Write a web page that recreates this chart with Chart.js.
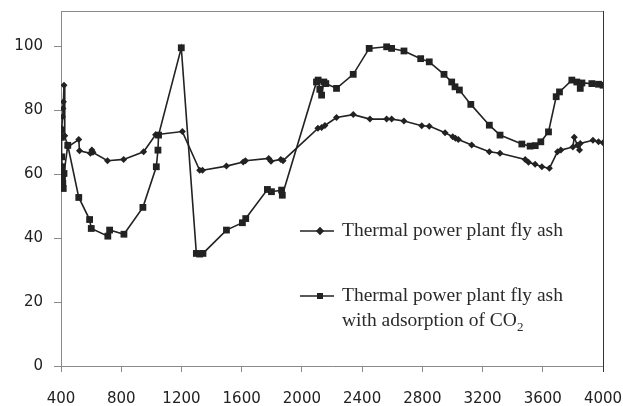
<!DOCTYPE html>
<html><head><meta charset="utf-8">
<script src="https://cdn.jsdelivr.net/npm/chart.js@4/dist/chart.umd.min.js"></script>
<style>html,body{margin:0;padding:0;background:#fff}#wrap{position:relative;width:623px;height:406px}</style>
</head><body><div id="wrap"><canvas id="c" width="623" height="406"></canvas></div>
<script>
const xTicks = [400, 800, 1200, 1600, 2000, 2400, 2800, 3200, 3600, 4000];
const yTicks = [0, 20, 40, 60, 80, 100];
const seriesNames = ['Thermal power plant fly ash', 'Thermal power plant fly ash', 'with adsorption of CO'];

const xFly = [400, 405, 410, 413, 416, 420, 425, 445, 518, 523, 595, 605, 612, 709, 816, 949, 1028, 1206, 1321, 1340, 1499, 1610, 1625, 1780, 1795, 1860, 1875, 2106, 2131, 2153, 2230, 2341, 2452, 2563, 2596, 2678, 2796, 2846, 2951, 3002, 3020, 3039, 3128, 3245, 3316, 3483, 3505, 3549, 3594, 3644, 3698, 3720, 3800, 3809, 3830, 3844, 3849, 3933, 3970, 4000];
const yFly = [71.7, 74.3, 77.9, 80.5, 82.6, 87.8, 72, 68.5, 70.8, 67.3, 66.5, 67.5, 66.8, 64.2, 64.6, 67, 72.3, 73.3, 61.2, 61.2, 62.5, 63.8, 64.2, 64.9, 64, 64.6, 64.2, 74.3, 74.6, 75.2, 77.7, 78.6, 77.2, 77.2, 77.2, 76.6, 75.1, 75, 72.9, 71.7, 71.2, 70.8, 69.1, 67, 66.5, 64.6, 63.7, 63.1, 62.3, 61.8, 67, 67.5, 68.5, 71.5, 69, 67.5, 69.6, 70.6, 70.1, 69.8];

const xCO2 = [400, 403, 405, 408, 410, 412, 415, 420, 445, 518, 590, 601, 711, 723, 818, 944, 1033, 1044, 1048, 1199, 1299, 1321, 1343, 1499, 1605, 1627, 1771, 1798, 1865, 1870, 2097, 2108, 2119, 2131, 2146, 2159, 2230, 2341, 2447, 2563, 2596, 2678, 2789, 2846, 2944, 2995, 3017, 3046, 3122, 3245, 3316, 3461, 3516, 3550, 3587, 3638, 3689, 3711, 3793, 3826, 3849, 3860, 3926, 3970, 4000];
const yCO2 = [73.7, 71.5, 65.4, 62.3, 59.2, 57.1, 55.5, 60.2, 69, 52.7, 45.8, 43, 40.6, 42.5, 41.2, 49.6, 62.3, 67.5, 72.2, 99.5, 35.2, 35, 35.2, 42.5, 44.8, 46.1, 55.2, 54.5, 55, 53.4, 88.8, 89.4, 86.5, 84.7, 88.8, 88.3, 86.8, 91.2, 99.3, 99.8, 99.3, 98.5, 96.1, 95.1, 91.2, 88.8, 87.3, 86.3, 81.8, 75.3, 72.2, 69.4, 68.75, 68.9, 70.1, 73.2, 84.2, 85.7, 89.4, 88.8, 86.8, 88.5, 88.3, 88.1, 87.8];

const pts = (xs, ys) => xs.map((x, i) => ({x: x, y: ys[i]}));
const INK = '#222';
const AXIS = '#8a8a8a';

const framePlugin = {
  id: 'frame',
  afterDraw(chart) {
    const {ctx, chartArea: a} = chart;
    ctx.save();
    ctx.lineWidth = 1;
    ctx.strokeStyle = AXIS;
    ctx.beginPath();
    ctx.moveTo(a.left, a.top + 0.5);
    ctx.lineTo(a.right, a.top + 0.5);
    ctx.stroke();
    ctx.strokeStyle = '#333';
    ctx.beginPath();
    ctx.moveTo(a.right + 0.5, a.top);
    ctx.lineTo(a.right + 0.5, a.bottom + 6);
    ctx.stroke();
    ctx.restore();
  }
};

const legendPlugin = {
  id: 'customLegend',
  afterDraw(chart) {
    const ctx = chart.ctx;
    ctx.save();
    const drawSample = (y, shape) => {
      ctx.strokeStyle = INK;
      ctx.lineWidth = 1.6;
      ctx.beginPath();
      ctx.moveTo(300, y);
      ctx.lineTo(334, y);
      ctx.stroke();
      ctx.fillStyle = INK;
      if (shape === 'diamond') {
        Chart.helpers.drawPoint(ctx, {pointStyle: 'rectRot', radius: 3, borderWidth: 1}, 320, y);
        ctx.fill();
      } else {
        ctx.fillRect(317, y - 3, 6, 6);
      }
    };
    drawSample(231, 'diamond');
    drawSample(296, 'square');
    ctx.fillStyle = '#2a2a2a';
    ctx.font = '19.5px "Liberation Serif", "Times New Roman", serif';
    ctx.textBaseline = 'middle';
    ctx.textAlign = 'left';
    ctx.fillText(seriesNames[0], 342, 231);
    ctx.fillText(seriesNames[1], 342, 296);
    ctx.fillText(seriesNames[2], 342, 321);
    const w = ctx.measureText(seriesNames[2]).width;
    ctx.font = '13px "Liberation Serif", "Times New Roman", serif';
    ctx.fillText('2', 342 + w, 328);
    ctx.restore();
  }
};

new Chart(document.getElementById('c'), {
  type: 'line',
  data: {
    datasets: [
      {
        label: seriesNames[0],
        data: pts(xFly, yFly),
        borderColor: INK,
        backgroundColor: INK,
        borderWidth: 1.6,
        pointStyle: 'rectRot',
        pointRadius: 3.5,
        pointBorderWidth: 0,
        tension: 0
      },
      {
        label: seriesNames[1] + ' ' + seriesNames[2] + '2',
        data: pts(xCO2, yCO2),
        borderColor: INK,
        backgroundColor: INK,
        borderWidth: 1.6,
        pointStyle: 'rect',
        pointRadius: 4.8,
        pointBorderWidth: 0,
        tension: 0
      }
    ]
  },
  options: {
    responsive: false,
    animation: false,
    layout: {padding: {top: 11, right: 20, left: 0, bottom: 0}},
    plugins: {legend: {display: false}, tooltip: {enabled: false}},
    scales: {
      x: {
        type: 'linear',
        min: 400, max: 4000,
        afterBuildTicks: s => { s.ticks = xTicks.map(v => ({value: v})); },
        afterFit: s => { s.height = 40; s.paddingLeft = 0; s.paddingRight = 0; },
        grid: {drawOnChartArea: false, color: AXIS, tickLength: 6},
        border: {color: AXIS, width: 1},
        ticks: {color: '#222', font: {family: '"DejaVu Sans", sans-serif', size: 15}, padding: 18, maxRotation: 0, autoSkip: false, callback: v => String(v)}
      },
      y: {
        min: 0, max: 111,
        afterBuildTicks: s => { s.ticks = yTicks.map(v => ({value: v})); },
        afterFit: s => { s.width = 61; s.paddingTop = 0; s.paddingBottom = 0; },
        grid: {drawOnChartArea: false, color: AXIS, tickLength: 7},
        border: {color: AXIS, width: 1},
        ticks: {color: '#222', font: {family: '"DejaVu Sans", sans-serif', size: 15}, padding: 11, callback: v => String(v)}
      }
    }
  },
  plugins: [framePlugin, legendPlugin]
});
</script>
</body></html>
